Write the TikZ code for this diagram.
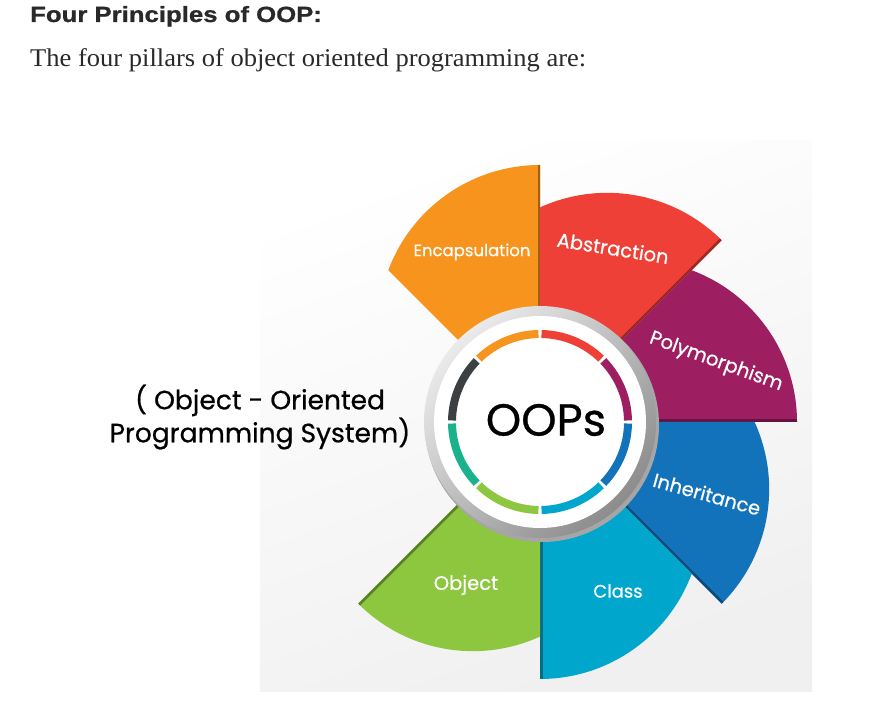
\documentclass[tikz,border=0pt]{standalone}
\usepackage{fontspec}
\setmainfont{Liberation Serif}
\newfontfamily\headfont[FakeStretch=1.17,FakeBold=1]{Liberation Sans}
\newfontfamily\introfont[FakeStretch=1.04]{Liberation Serif}
\newfontfamily\popfont[FakeBold=0.6]{Poppins}
\usetikzlibrary{positioning,calc}
\definecolor{oopsorange}{RGB}{246,148,30}
\definecolor{oopsred}{RGB}{238,64,54}
\definecolor{oopspurple}{RGB}{158,30,98}
\definecolor{oopsblue}{RGB}{18,114,186}
\definecolor{oopscyan}{RGB}{0,166,204}
\definecolor{oopsgreen}{RGB}{141,198,63}
\definecolor{oopsteal}{RGB}{26,178,140}
\definecolor{oopsdark}{RGB}{60,64,66}
\definecolor{oopstext}{RGB}{41,41,41}

\begin{document}
\begin{tikzpicture}[
    x=1pt, y=1pt,
    petal/.style={font=\popfont\fontsize{19.5}{22}\selectfont, text=white},
    side/.style={font=\popfont\fontsize{26.5}{33}\selectfont, text=black,
                 align=center},
  ]
  \useasboundingbox (-540,-286) rectangle (332,422);

  % Kopf
  \node[anchor=base west, inner sep=0, text=oopstext,
        font=\headfont\bfseries\fontsize{22}{24}\selectfont] (title)
    at (-510,400) {Four Principles of OOP:};
  \node[anchor=base west, inner sep=0, text=oopstext,
        font=\introfont\fontsize{25.5}{28}\selectfont] (intro)
    at (-510,355) {The four pillars of object oriented programming are:};

  % Hintergrund
  \shade[top color=white, bottom color=black!6, shading angle=20]
    (-280,281) rectangle (272,-270);

  % Blaetter
  \foreach \a/\c in {90/oopsorange, 45/oopsred, 0/oopspurple,
                     -45/oopsblue, -90/oopscyan, -135/oopsgreen} {
    \begin{scope}
      \clip (0,0) -- (\a:257) arc[start angle=\a, delta angle=69.5,
                                  radius=162] -- cycle;
      \fill[\c] (-300,-300) rectangle (300,300);
      \draw[\c!65!black, line width=5pt] (0,0) -- (\a:260);
    \end{scope}
  }

  % Ring
  \fill[black!35] (2,-3) circle[radius=117];
  \shade[top color=black!8, bottom color=black!45, shading angle=45]
    (0,0) circle[radius=116];
  \fill[white] (0,0) circle[radius=106];
  \foreach \a/\c in {90/oopsorange, 45/oopsred, 0/oopspurple,
                     -45/oopsblue, -90/oopscyan, -135/oopsgreen,
                     180/oopsteal, 135/oopsdark} {
    \draw[\c, line width=8pt] ({\a+1}:88) arc[start angle=\a+1,
                                             delta angle=43, radius=88];
  }

  % Texte
  \node[font=\popfont\fontsize{45}{50}\selectfont] (oops) at (6,2) {OOPs};
  \node[side] (full) at (-280,5)
    {( Object - Oriented\\Programming System)};

  \node[petal, font=\popfont\fontsize{16.5}{20}\selectfont] (encap)
    at (-68,170) {Encapsulation};
  \node[petal, rotate=-9] (abstr) at (73,174) {Abstraction};
  \node[petal, rotate=-20] (poly) at (176,60) {Polymorphism};
  \node[petal, rotate=-15.5] (inher) at (167,-72) {Inheritance};
  \node[petal, font=\popfont\fontsize{18}{20}\selectfont] (class)
    at (78,-169) {Class};
  \node[petal] (object) at (-74,-163) {Object};
\end{tikzpicture}
\end{document}
